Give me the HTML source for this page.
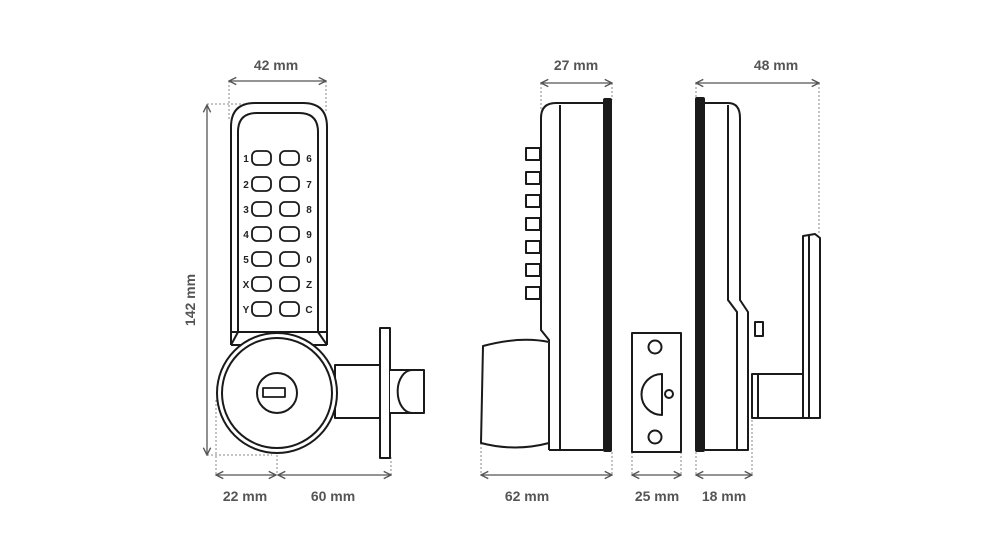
<!DOCTYPE html>
<html><head><style>
html,body{margin:0;padding:0;background:#fff;width:1000px;height:560px;overflow:hidden}
text{font-family:"Liberation Sans",sans-serif;font-weight:bold;font-size:14px;fill:#555}
.k{font-size:10px;fill:#222}
</style></head><body>
<svg width="1000" height="560" viewBox="0 0 1000 560" xmlns="http://www.w3.org/2000/svg">
<defs>
<marker id="a" viewBox="0 0 10 10" refX="9" refY="5" markerWidth="7" markerHeight="7" orient="auto-start-reverse"><path d="M1,1 L9,5 L1,9" fill="none" stroke="#555" stroke-width="1.5"/></marker>
</defs>
<g stroke="#888" stroke-width="1" stroke-dasharray="2,2" fill="none">
<line x1="229" y1="81" x2="229" y2="120"/><line x1="326" y1="81" x2="326" y2="112"/>
<line x1="207" y1="104" x2="245" y2="104"/><line x1="207" y1="455" x2="272" y2="455"/>
<line x1="216" y1="400" x2="216" y2="475"/><line x1="277" y1="395" x2="277" y2="475"/><line x1="391" y1="457" x2="391" y2="475"/>
<line x1="541" y1="83" x2="541" y2="110"/><line x1="612" y1="83" x2="612" y2="100"/>
<line x1="481" y1="443" x2="481" y2="475"/><line x1="612" y1="452" x2="612" y2="475"/>
<line x1="632" y1="452" x2="632" y2="475"/><line x1="681" y1="452" x2="681" y2="475"/>
<line x1="696" y1="83" x2="696" y2="100"/><line x1="819" y1="83" x2="819" y2="235"/>
<line x1="696" y1="452" x2="696" y2="475"/><line x1="752" y1="420" x2="752" y2="475"/>
</g>
<g stroke="#555" stroke-width="1.3" fill="none" marker-start="url(#a)" marker-end="url(#a)">
<line x1="229" y1="81" x2="326" y2="81"/>
<line x1="207" y1="105" x2="207" y2="455"/>
<line x1="216" y1="475" x2="276" y2="475"/><line x1="278" y1="475" x2="391" y2="475"/>
<line x1="541" y1="83" x2="612" y2="83"/>
<line x1="481" y1="475" x2="612" y2="475"/>
<line x1="632" y1="475" x2="681" y2="475"/>
<line x1="696" y1="83" x2="819" y2="83"/>
<line x1="696" y1="475" x2="752" y2="475"/>
</g>
<text x="276" y="70" text-anchor="middle">42 mm</text>
<text x="195" y="300" text-anchor="middle" transform="rotate(-90 195 300)">142 mm</text>
<text x="245" y="501" text-anchor="middle">22 mm</text>
<text x="333" y="501" text-anchor="middle">60 mm</text>
<text x="576" y="70" text-anchor="middle">27 mm</text>
<text x="776" y="70" text-anchor="middle">48 mm</text>
<text x="527" y="501" text-anchor="middle">62 mm</text>
<text x="657" y="501" text-anchor="middle">25 mm</text>
<text x="724" y="501" text-anchor="middle">18 mm</text>

<g stroke="#1a1a1a" stroke-width="2" fill="none" stroke-linejoin="round">
<path d="M231,345 L231,127 Q231,103 255,103 L303,103 Q327,103 327,127 L327,345"/>
<path d="M238,332 L238,132 Q238,113 257,113 L299,113 Q318,113 318,132 L318,332"/>
<path d="M231,332 L327,332 M231,345 L327,345 M238,332 L231,345 M318,332 L327,345"/>
<g fill="#fff">
<rect x="335" y="365" width="48" height="53"/>
<rect x="380" y="328" width="10" height="130"/>
<path d="M390,370 L424,370 L424,413 L390,413"/>
<path d="M412,370 A14,21 0 0 0 412,413" />
<circle cx="277" cy="393" r="60"/>
<circle cx="277" cy="393" r="55"/>
<circle cx="277" cy="393" r="20"/>
<rect x="263" y="388" width="22" height="9" stroke-width="1.8"/>
</g>
<g stroke-width="1.8">
<rect x="252" y="151" width="19" height="14" rx="5"/><rect x="280" y="151" width="19" height="14" rx="5"/>
<rect x="252" y="177" width="19" height="14" rx="5"/><rect x="280" y="177" width="19" height="14" rx="5"/>
<rect x="252" y="202" width="19" height="14" rx="5"/><rect x="280" y="202" width="19" height="14" rx="5"/>
<rect x="252" y="227" width="19" height="14" rx="5"/><rect x="280" y="227" width="19" height="14" rx="5"/>
<rect x="252" y="252" width="19" height="14" rx="5"/><rect x="280" y="252" width="19" height="14" rx="5"/>
<rect x="252" y="277" width="19" height="14" rx="5"/><rect x="280" y="277" width="19" height="14" rx="5"/>
<rect x="252" y="302" width="19" height="14" rx="5"/><rect x="280" y="302" width="19" height="14" rx="5"/>
</g>
<path d="M549,450 L549,340 L541,330 L541,118 Q541,103 556,103 L603,103"/>
<line x1="603" y1="450" x2="549" y2="450"/>
<line x1="560" y1="105" x2="560" y2="450"/>
<path d="M549,342 Q520,336 483,346 L481,443 Q515,452 549,443" fill="#fff"/>
<line x1="549" y1="343" x2="549" y2="443"/>
<rect x="526" y="148" width="14" height="12"/><rect x="526" y="172" width="14" height="12"/>
<rect x="526" y="195" width="14" height="12"/><rect x="526" y="218" width="14" height="12"/>
<rect x="526" y="241" width="14" height="12"/><rect x="526" y="264" width="14" height="12"/>
<rect x="526" y="287" width="14" height="12"/>
<rect x="632" y="333" width="49" height="119"/>
<circle cx="655" cy="347" r="6.5"/><circle cx="655" cy="437" r="6.5"/>
<path d="M662,374 L662,415 A20.5,20.5 0 0 1 662,374 Z"/>
<circle cx="669" cy="394" r="4"/>
<path d="M705,103 L728,103 Q740,103 740,118 L740,300 L748,312 L748,450 L705,450"/>
<path d="M728,105 L728,300 L737,312 L737,450"/>
<rect x="755" y="322" width="8" height="14"/>
<rect x="752" y="374" width="51" height="44" fill="#fff"/>
<line x1="758" y1="374" x2="758" y2="418"/>
<path d="M803,418 L803,236 L815,234 L820,238 L820,418 Z" fill="#fff"/>
<line x1="809" y1="236" x2="809" y2="418"/>
</g>
<rect x="603" y="98" width="9" height="354" rx="2" fill="#1a1a1a"/>
<rect x="695" y="97" width="10" height="355" rx="2" fill="#1a1a1a"/>
<g class="k">
<text class="k" x="246" y="162" text-anchor="middle">1</text><text class="k" x="309" y="162" text-anchor="middle">6</text>
<text class="k" x="246" y="188" text-anchor="middle">2</text><text class="k" x="309" y="188" text-anchor="middle">7</text>
<text class="k" x="246" y="213" text-anchor="middle">3</text><text class="k" x="309" y="213" text-anchor="middle">8</text>
<text class="k" x="246" y="238" text-anchor="middle">4</text><text class="k" x="309" y="238" text-anchor="middle">9</text>
<text class="k" x="246" y="263" text-anchor="middle">5</text><text class="k" x="309" y="263" text-anchor="middle">0</text>
<text class="k" x="246" y="288" text-anchor="middle">X</text><text class="k" x="309" y="288" text-anchor="middle">Z</text>
<text class="k" x="246" y="313" text-anchor="middle">Y</text><text class="k" x="309" y="313" text-anchor="middle">C</text>
</g>
</svg>
</body></html>
